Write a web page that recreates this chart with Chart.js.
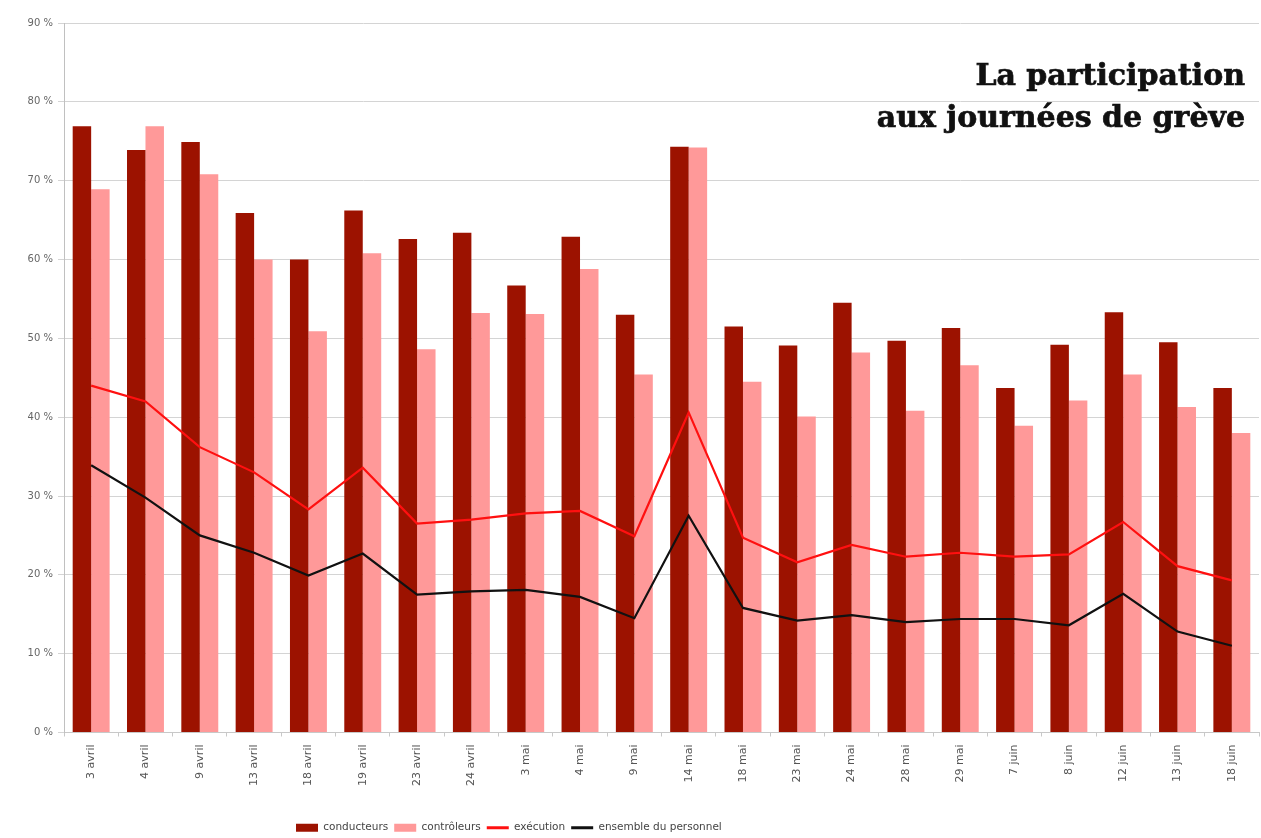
<!DOCTYPE html>
<html><head><meta charset="utf-8">
<script src="https://cdn.jsdelivr.net/npm/chart.js@4.4.1/dist/chart.umd.min.js"></script>
<style>
html,body{margin:0;padding:0;background:#fff;}
#wrap{position:relative;width:1261px;height:838px;overflow:hidden;}
#title{position:absolute;right:16px;top:54px;font-family:"DejaVu Serif",serif;font-weight:bold;font-size:30px;line-height:42px;text-align:right;color:#111;white-space:nowrap;-webkit-text-stroke:0.7px #111;}
</style></head>
<body><div id="wrap"><canvas id="c" width="1261" height="838"></canvas><div id="title">La participation<br>aux journées de grève</div></div>
<script>
const categories = ['3 avril','4 avril','9 avril','13 avril','18 avril','19 avril','23 avril','24 avril','3 mai','4 mai','9 mai','14 mai','18 mai','23 mai','24 mai','28 mai','29 mai','7 juin','8 juin','12 juin','13 juin','18 juin'];
const conducteurs = [76.9,73.9,74.9,65.9,60.0,66.2,62.6,63.4,56.7,62.9,53.0,74.3,51.5,49.1,54.5,49.7,51.3,43.7,49.2,53.3,49.5,43.7];
const controleurs = [68.9,76.9,70.8,60.0,50.9,60.8,48.6,53.2,53.1,58.8,45.4,74.2,44.5,40.1,48.2,40.8,46.6,38.9,42.1,45.4,41.3,38.0];
const execution = [44.0,42.0,36.2,33.0,28.3,33.6,26.5,27.0,27.8,28.1,24.9,40.6,24.7,21.6,23.8,22.3,22.8,22.3,22.6,26.7,21.1,19.3];
const ensemble = [33.9,29.8,25.0,22.8,19.9,22.7,17.5,17.9,18.1,17.2,14.5,27.5,15.8,14.2,14.9,14.0,14.4,14.4,13.6,17.6,12.8,11.0];
const yTicks = [0,10,20,30,40,50,60,70,80,90];

const legendShift = {
  id: 'legendShift',
  afterLayout(chart) {
    const l = chart.legend;
    if (l) { l.left = 290; l.right = 1261; l.top += 5; l.bottom += 5; }
  }
};

new Chart(document.getElementById('c'), {
  data: {
    labels: categories,
    datasets: [
      { type: 'bar', label: 'conducteurs', data: conducteurs, backgroundColor: '#9c1200', order: 1 },
      { type: 'bar', label: 'contrôleurs', data: controleurs, backgroundColor: '#ff9999', order: 1 },
      { type: 'line', label: 'exécution', data: execution, borderColor: '#ff1010', borderWidth: 2.2, pointRadius: 0, tension: 0, fill: false, order: 0 },
      { type: 'line', label: 'ensemble du personnel', data: ensemble, borderColor: '#111111', borderWidth: 2.2, pointRadius: 0, tension: 0, fill: false, order: 0 }
    ]
  },
  options: {
    responsive: false,
    animation: false,
    devicePixelRatio: 1,
    layout: { padding: { left: 0, top: 23, right: 2, bottom: 0 } },
    datasets: { bar: { categoryPercentage: 0.68, barPercentage: 1.0 } },
    plugins: {
      tooltip: { enabled: false },
      title: { display: false },
      legend: {
        position: 'bottom',
        align: 'start',
        labels: {
          font: { family: 'DejaVu Sans', size: 10.5 },
          color: '#444',
          padding: 6,
          usePointStyle: true,
          boxHeight: 8,
          pointStyleWidth: 22,
          generateLabels(chart) {
            return chart.data.datasets.map((ds, i) => ({
              text: ds.label,
              datasetIndex: i,
              fillStyle: ds.type === 'bar' ? ds.backgroundColor : ds.borderColor,
              strokeStyle: ds.type === 'bar' ? ds.backgroundColor : ds.borderColor,
              lineWidth: ds.type === 'bar' ? 0 : 3,
              pointStyle: ds.type === 'bar' ? 'rect' : 'line',
              fontColor: '#444',
              hidden: false
            }));
          }
        }
      }
    },
    scales: {
      x: {
        type: 'category',
        offset: true,
        grid: { offset: true, drawOnChartArea: false, drawTicks: true, tickLength: 4, color: '#c8c8c8' },
        border: { color: '#c8c8c8' },
        ticks: { autoSkip: false, minRotation: 90, maxRotation: 90, padding: 8, color: '#555', font: { family: 'DejaVu Sans', size: 11 } },
        afterFit(scale) { scale.height = 79; }
      },
      y: {
        min: 0, max: 90,
        afterBuildTicks(scale) { scale.ticks = yTicks.map(v => ({ value: v })); },
        grid: { color: '#d4d4d4', tickLength: 6, lineWidth: 1 },
        border: { color: '#c0c0c0' },
        ticks: { padding: 5, color: '#666', font: { family: 'DejaVu Sans', size: 10 }, callback: v => v + ' %' },
        afterFit(scale) { scale.width = 64; }
      }
    }
  },
  plugins: [legendShift]
});
</script>
</body></html>
